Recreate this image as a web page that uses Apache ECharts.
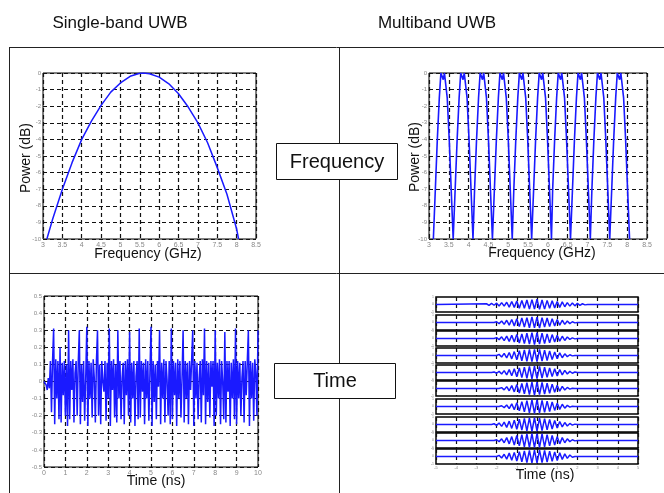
<!DOCTYPE html>
<html><head><meta charset="utf-8">
<script src="https://cdn.jsdelivr.net/npm/echarts@6/dist/echarts.min.js"></script>
<style>html,body{margin:0;padding:0;background:#fff}#c{width:664px;height:493px}</style>
</head><body><div id="c"></div>
<script>
const FONT = "'Liberation Sans', Arial, sans-serif";
const BLUE = '#1a1aff';

// ---------- Panel 1: single-band spectrum ----------
const sbFreq  = [3.1, 3.25, 3.5, 3.75, 4.0, 4.25, 4.5, 4.75, 5.0, 5.25, 5.5, 5.6, 5.75, 6.0, 6.25, 6.5, 6.75, 7.0, 7.25, 7.5, 7.75, 8.0, 8.05];
const sbPower = [-10, -8.8, -7.0, -5.4, -4.0, -2.9, -1.95, -1.15, -0.6, -0.2, -0.02, 0, -0.05, -0.25, -0.65, -1.25, -2.05, -3.0, -4.2, -5.7, -7.3, -9.4, -10];

// ---------- Panel 2: multiband spectrum (10 sub-bands) ----------
const mbFreq = [
  3.11,3.16,3.21,3.26,3.30,3.33,3.36,3.39,3.42,3.46,3.51,3.56,3.61,
  3.61,3.66,3.71,3.76,3.80,3.83,3.86,3.89,3.92,3.96,4.01,4.06,4.11,
  4.10,4.15,4.20,4.25,4.29,4.32,4.35,4.38,4.41,4.45,4.50,4.55,4.60,
  4.60,4.65,4.70,4.75,4.79,4.82,4.85,4.88,4.91,4.95,5.00,5.05,5.10,
  5.09,5.14,5.19,5.24,5.28,5.31,5.34,5.37,5.40,5.44,5.49,5.54,5.59,
  5.59,5.64,5.69,5.74,5.78,5.81,5.84,5.87,5.90,5.94,5.99,6.04,6.09,
  6.07,6.12,6.17,6.22,6.26,6.29,6.32,6.35,6.38,6.42,6.47,6.52,6.57,
  6.57,6.62,6.67,6.72,6.76,6.79,6.82,6.85,6.88,6.92,6.97,7.02,7.07,
  7.06,7.11,7.16,7.21,7.25,7.28,7.31,7.34,7.37,7.41,7.46,7.51,7.56,
  7.56,7.61,7.66,7.71,7.75,7.78,7.81,7.84,7.87,7.91,7.96,8.01,8.06
];
const mbPower = [
  -10,-7,-4,-1.5,0,0,-0.4,0,0,-1.5,-4,-7,-10,
  -10,-7,-4,-1.5,0,0,-0.4,0,0,-1.5,-4,-7,-10,
  -10,-7,-4,-1.5,0,0,-0.4,0,0,-1.5,-4,-7,-10,
  -10,-7,-4,-1.5,0,0,-0.4,0,0,-1.5,-4,-7,-10,
  -10,-7,-4,-1.5,0,0,-0.4,0,0,-1.5,-4,-7,-10,
  -10,-7,-4,-1.5,0,0,-0.4,0,0,-1.5,-4,-7,-10,
  -10,-7,-4,-1.5,0,0,-0.4,0,0,-1.5,-4,-7,-10,
  -10,-7,-4,-1.5,0,0,-0.4,0,0,-1.5,-4,-7,-10,
  -10,-7,-4,-1.5,0,0,-0.4,0,0,-1.5,-4,-7,-10,
  -10,-7,-4,-1.5,0,0,-0.4,0,0,-1.5,-4,-7,-10
];

// ---------- Panel 3: single-band time signal (sample step 0.05 ns) ----------
const sbStep = 0.05;
const sbSignal = [
  0, 0.01, -0.02, -0.05, 0.02, -0.04, 0.12, -0.18, 0.12, 0.31,
  -0.25, 0.13, -0.1, 0.12, -0.22, 0.2, -0.24, 0.11, -0.08, 0.12,
  -0.2, 0.1, -0.26, 0.3, -0.22, 0.12, -0.05, 0.13, -0.24, 0.05,
  0.12, -0.2, 0.11, 0.3, -0.25, 0.1, -0.12, 0.12, -0.23, 0.02,
  0.32, -0.26, 0.12, -0.1, 0.11, -0.21, 0.13, 0.02, -0.24, 0.12,
  0.3, -0.2, 0.1, -0.25, 0.12, 0.0, -0.06, 0.12, -0.23, 0.11,
  -0.1, 0.31, -0.26, 0.12, -0.05, 0.13, -0.21, 0.1, -0.24, 0.3,
  -0.1, 0.12, -0.22, 0.02, 0.11, -0.25, 0.12, -0.08, 0.13, -0.2,
  0.29, -0.24, 0.11, -0.1, 0.12, -0.26, 0.03, 0.12, -0.22, 0.31,
  -0.21, 0.12, -0.06, 0.11, -0.25, 0.13, -0.1, 0.12, -0.23, 0.05,
  0.32, -0.26, 0.12, -0.12, 0.1, -0.22, 0.12, -0.03, 0.3, -0.25,
  0.11, -0.1, 0.13, -0.24, 0.12, 0.01, -0.2, 0.12, -0.25, 0.31,
  -0.22, 0.12, -0.08, 0.11, -0.26, 0.13, -0.1, 0.12, -0.21, 0.02,
  0.3, -0.24, 0.12, -0.1, 0.11, -0.25, 0.12, -0.05, 0.13, 0.3,
  -0.26, 0.12, -0.1, 0.11, -0.22, 0.02, 0.12, -0.24, 0.13, -0.08,
  0.31, -0.25, 0.12, -0.12, 0.11, -0.21, 0.12, -0.03, 0.12, -0.26,
  0.3, -0.2, 0.11, -0.1, 0.13, -0.25, 0.12, 0.0, -0.22, 0.29,
  -0.24, 0.12, -0.06, 0.12, -0.26, 0.11, -0.1, 0.13, -0.22, 0.31,
  -0.25, 0.12, -0.1, 0.11, -0.2, 0.02, 0.12, -0.24, 0.12, -0.08,
  0.12, 0.3, -0.26, 0.12, -0.1, 0.11, -0.23, 0.13, 0.05, -0.2,
  0.3
];

// ---------- Panel 4: multiband time signals (10 sub-band pulses) ----------
const mbTimeStart = -2.5, mbTimeStep = 0.125; // samples of each burst
const mbBursts = [
  [0.1,-0.12,0.15,-0.1,0.18,-0.2,0.25,-0.22,0.3,-0.35,0.4,-0.38,0.45,-0.5,0.55,-0.5,0.6,-0.62,0.65,-0.6,0.7,-0.65,0.6,-0.62,0.55,-0.5,0.5,-0.45,0.4,-0.38,0.35,-0.3,0.25,-0.22,0.2,-0.18,0.15,-0.12,0.1,-0.05,0],
  [0,0,0,0,0.1,-0.15,0.2,-0.25,0.3,-0.35,0.4,-0.45,0.5,-0.55,0.6,-0.6,0.65,-0.7,0.75,-0.7,0.7,-0.75,0.65,-0.6,0.6,-0.55,0.5,-0.45,0.4,-0.35,0.3,-0.25,0.2,-0.15,0.1,-0.05,0,0,0,0,0],
  [0,0,0,0,0.12,-0.15,0.22,-0.28,0.32,-0.38,0.42,-0.48,0.55,-0.6,0.62,-0.68,0.7,-0.75,0.78,-0.8,0.78,-0.75,0.72,-0.68,0.62,-0.58,0.52,-0.48,0.42,-0.36,0.3,-0.26,0.2,-0.12,0.08,-0.05,0,0,0,0,0],
  [0,0,0,0,0,0.15,-0.2,0.28,-0.32,0.4,-0.45,0.52,-0.58,0.64,-0.7,0.75,-0.78,0.8,-0.82,0.82,-0.8,0.8,-0.76,0.72,-0.66,0.6,-0.55,0.48,-0.42,0.36,-0.3,0.22,-0.15,0.1,-0.05,0,0,0,0,0,0],
  [0,0,0,0.08,-0.1,0.15,-0.2,0.25,-0.32,0.38,-0.44,0.5,-0.56,0.62,-0.68,0.72,-0.78,0.82,-0.85,0.85,-0.82,0.8,-0.75,0.7,-0.65,0.6,-0.55,0.5,-0.45,0.4,-0.32,0.28,-0.2,0.15,-0.1,0.06,0,0,0,0,0],
  [0,0,0,0,0,0,0.12,-0.18,0.25,-0.3,0.38,-0.45,0.52,-0.6,0.66,-0.72,0.78,-0.82,0.85,-0.88,0.85,-0.82,0.8,-0.75,0.7,-0.64,0.58,-0.5,0.44,-0.36,0.28,-0.2,0.14,-0.08,0.04,0,0,0,0,0,0],
  [0,0,0,0,0,0,0.1,-0.15,0.2,-0.28,0.35,-0.42,0.5,-0.58,0.65,-0.72,0.78,-0.84,0.88,-0.9,0.88,-0.86,0.82,-0.78,0.72,-0.66,0.6,-0.52,0.45,-0.38,0.3,-0.22,0.15,-0.08,0.04,0,0,0,0,0,0],
  [0,0,0,0.1,-0.12,0.2,-0.25,0.32,-0.38,0.45,-0.52,0.58,-0.64,0.7,-0.75,0.8,-0.84,0.88,-0.9,0.9,-0.88,0.86,-0.82,0.78,-0.72,0.66,-0.6,0.54,-0.46,0.4,-0.32,0.26,-0.2,0.14,-0.08,0.05,0,0,0,0,0],
  [0,0,0,0,0.1,-0.15,0.22,-0.3,0.38,-0.45,0.52,-0.6,0.66,-0.72,0.78,-0.84,0.88,-0.9,0.92,-0.92,0.9,-0.9,0.88,-0.84,0.78,-0.72,0.66,-0.6,0.52,-0.45,0.38,-0.3,0.22,-0.15,0.1,-0.05,0,0,0,0,0],
  [0,0,0,0,0,0.15,-0.2,0.3,-0.35,0.45,-0.5,0.55,-0.6,0.65,-0.7,0.75,-0.8,0.8,-0.85,0.85,-0.85,0.85,-0.8,0.8,-0.75,0.7,-0.65,0.6,-0.55,0.5,-0.4,0.35,-0.25,0.2,-0.1,0,0,0,0,0,0]
];
const mbTimeMin = -5, mbTimeMax = 5;

// ---------- Text ----------
const colTitles = ['Single-band UWB', 'Multiband UWB'];
const rowLabels = ['Frequency', 'Time'];
const freqAxisTitle = 'Frequency (GHz)';
const powerAxisTitle = 'Power (dB)';
const timeAxisTitle = 'Time (ns)';

// ---------- Build ----------
const pairs = (xs, ys) => ys.map((y, i) => [xs[i], y]);
const gridLine = { show: true, lineStyle: { color: '#111', type: [4, 3], width: 1.2 } };
const lbl = (fs, extra) => Object.assign({ fontSize: fs, color: '#888', fontFamily: FONT, margin: 2 }, extra || {});

const grids = [], xAxes = [], yAxes = [], series = [];
function addPanel(g, xa, ya) {
  const gi = grids.length;
  grids.push(Object.assign({ show: true, borderColor: '#000', borderWidth: 1, containLabel: false, outerBoundsMode: 'none' }, g));
  xAxes.push(Object.assign({ gridIndex: gi, type: 'value', axisLine: { show: false }, axisTick: { show: false }, splitLine: gridLine, axisLabel: lbl(7, { margin: 3 }) }, xa));
  yAxes.push(Object.assign({ gridIndex: gi, type: 'value', axisLine: { show: false }, axisTick: { show: false }, splitLine: gridLine, axisLabel: lbl(6) }, ya));
  return gi;
}
function addLine(gi, data, width) {
  series.push({ type: 'line', xAxisIndex: gi, yAxisIndex: gi, data, showSymbol: false, symbol: 'none', animation: false,
    lineStyle: { color: BLUE, width: width || 1.5 }, clip: true });
}

// Panel 1
let g = addPanel({ left: 43, top: 73, width: 213, height: 166 }, { min: 3, max: 8.5, interval: 0.5 }, { min: -10, max: 0, interval: 1 });
addLine(g, pairs(sbFreq, sbPower), 1.5);
// Panel 2
g = addPanel({ left: 429, top: 73, width: 218, height: 166 }, { min: 3, max: 8.5, interval: 0.5 }, { min: -10, max: 0, interval: 1 });
addLine(g, pairs(mbFreq, mbPower), 1.6);
// Panel 3
g = addPanel({ left: 44, top: 296, width: 214, height: 171 }, { min: 0, max: 10, interval: 1 }, { min: -0.5, max: 0.5, interval: 0.1 });
addLine(g, sbSignal.map((v, i) => [i * sbStep, v]), 1.5);
// Panel 4 (stacked)
const subTops = [297, 315, 331, 348, 365, 381, 399, 417, 433, 449];
mbBursts.forEach((b, k) => {
  const last = k === mbBursts.length - 1;
  const gi = addPanel({ left: 436, top: subTops[k], width: 202, height: 15, borderWidth: 1.5 },
    { min: mbTimeMin, max: mbTimeMax, interval: 1, axisLabel: lbl(4, { show: last, margin: 2 }) },
    { min: -1, max: 1, interval: 1, splitLine: { show: false }, axisLabel: lbl(3.5, { margin: 2 }) });
  const d = [[mbTimeMin, 0]].concat(b.map((v, i) => [mbTimeStart + i * mbTimeStep, v])).concat([[mbTimeMax, 0]]);
  addLine(gi, d, 1.5);
});

const txt = (text, x, y, size, extra) => Object.assign({ type: 'text', x, y, style: { text, fontSize: size, fontFamily: FONT, fill: '#111', align: 'center', verticalAlign: 'middle' } }, extra || {});
const ln = (x1, y1, x2, y2) => ({ type: 'line', shape: { x1, y1, x2, y2 }, style: { stroke: '#222', lineWidth: 1 } });

const graphic = [
  ln(9, 47.5, 664, 47.5), ln(9.5, 47, 9.5, 493), ln(339.5, 47, 339.5, 493), ln(9, 273.5, 664, 273.5),
  { type: 'rect', shape: { x: 276.5, y: 143.5, width: 121, height: 36 }, style: { fill: '#fff', stroke: '#111', lineWidth: 1 } },
  txt(rowLabels[0], 337, 162, 20),
  { type: 'rect', shape: { x: 274.5, y: 363.5, width: 121, height: 35 }, style: { fill: '#fff', stroke: '#111', lineWidth: 1 } },
  txt(rowLabels[1], 335, 381, 20),
  txt(colTitles[0], 120, 23, 17),
  txt(colTitles[1], 437, 23, 17),
  txt(freqAxisTitle, 148, 254, 14),
  txt(freqAxisTitle, 542, 253, 14),
  txt(powerAxisTitle, 26, 158, 14, { rotation: Math.PI / 2 }),
  txt(powerAxisTitle, 415, 157, 14, { rotation: Math.PI / 2 }),
  txt(timeAxisTitle, 156, 481, 14),
  txt(timeAxisTitle, 545, 475, 14)
];

const chart = echarts.init(document.getElementById('c'), null, { renderer: 'canvas' });
chart.setOption({ animation: false, backgroundColor: '#fff', grid: grids, xAxis: xAxes, yAxis: yAxes, series, graphic });
</script></body></html>
